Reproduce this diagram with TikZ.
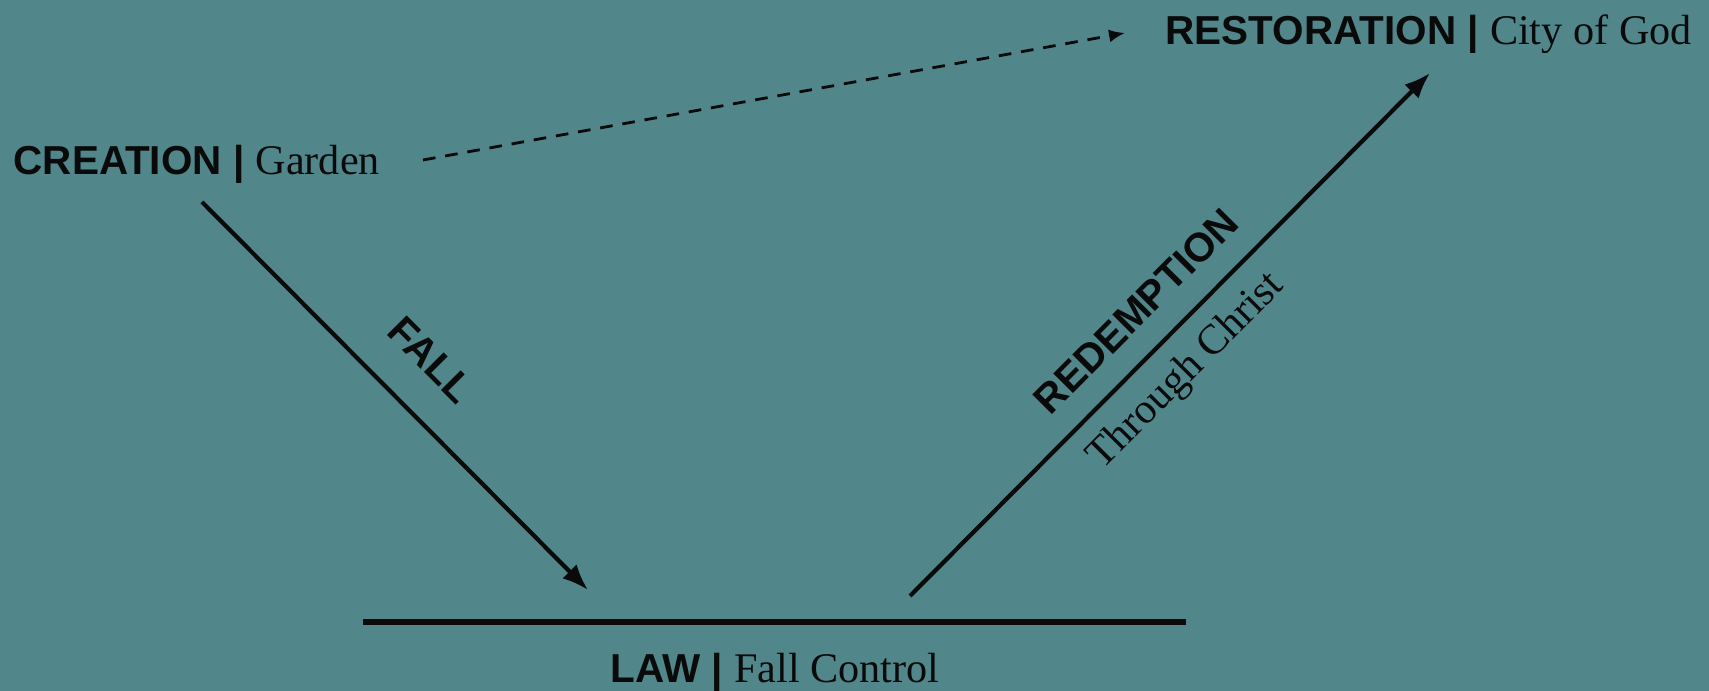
\documentclass[tikz,border=0pt]{standalone}
\usepackage{fontspec}
\setmainfont{Liberation Serif}
\setsansfont{Liberation Sans}
\usetikzlibrary{arrows.meta,calc,positioning}
\definecolor{StoryTeal}{HTML}{51868B}
\definecolor{StoryInk}{HTML}{0A0A0A}
\newcommand{\storyplain}[1]{{\rmfamily\mdseries\fontsize{12}{14}\selectfont #1}}
\tikzset{
  era/.style={text=StoryInk,inner sep=0pt,
    font=\fontsize{11.5}{13}\selectfont\sffamily\bfseries},
  story arrow/.style={-{Latex[length=2.6mm,width=2mm]},StoryInk,line width=1.2pt},
  story hope/.style={-{Latex[length=1.6mm,width=1.3mm]},StoryInk,line width=0.8pt,
    dash pattern=on 3.6pt off 2.8pt}
}
\begin{document}
\begin{tikzpicture}[x=0.01cm,y=0.01cm]
        \fill[StoryTeal] (0,0) rectangle (1709,691);
        \useasboundingbox (0,0) rectangle (1709,691);

        \node[era,anchor=base west] (creation) at (13,516)
          {CREATION | \storyplain{Garden}};
        \node[era,anchor=base west] (restoration) at (1165,646)
          {RESTORATION | \storyplain{City of God}};
        \node[era,anchor=base west] (law) at (610,8)
          {LAW | \storyplain{Fall Control}};

        \coordinate (hope start) at (423,531);
        \coordinate (hope tip) at (1125,658);
        \coordinate (fall top) at (202,489);
        \coordinate (fall tip) at (588,101);
        \coordinate (rise foot) at (910,95);
        \coordinate (rise tip) at (1430,618);
        \coordinate (law left) at (363,69);
        \coordinate (law right) at (1186,69);

        \draw[story hope] (hope start) -- (hope tip);

        \draw[story arrow] (fall top) -- (fall tip)
          node[era,midway,sloped,above=0.35cm] (fall) {FALL};

        \draw[story arrow] (rise foot) -- (rise tip)
          node[era,pos=0.49,sloped,above=0.24cm] (redemption) {REDEMPTION}
          node[era,pos=0.48,sloped,below=0.17cm] (christ)
            {\storyplain{Through Christ}};

        \draw[StoryInk,line width=1.6pt] (law left) -- (law right);
      \end{tikzpicture}
\end{document}
